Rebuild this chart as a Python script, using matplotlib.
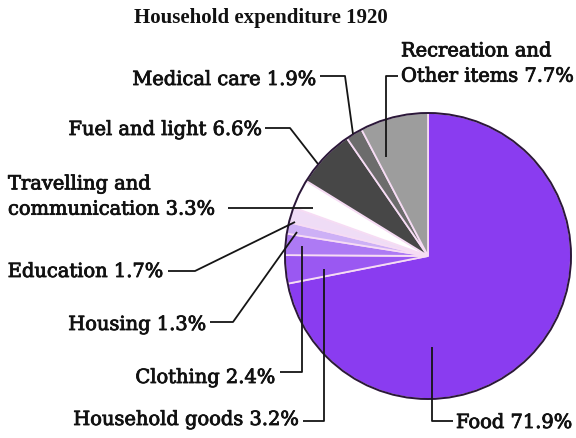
import matplotlib.pyplot as plt
import matplotlib.patheffects as pe
from matplotlib.patches import Circle

# Household expenditure shares, 1920 (percent), clockwise from 12 o'clock
categories = ["Food", "Household goods", "Clothing", "Housing", "Education",
              "Travelling and\ncommunication", "Fuel and light", "Medical care",
              "Recreation and\nOther items"]
shares = [71.9, 3.2, 2.4, 1.3, 1.7, 3.3, 6.6, 1.9, 7.7]
colors = ["#8a3cf0", "#9a58f2", "#ad7af4", "#cdb0f6", "#efdcf6",
          "#ffffff", "#474747", "#6c6c6c", "#9d9d9d"]

W, H = 576, 439
FONT = "DejaVu Serif"
heavy = [pe.withStroke(linewidth=0.6, foreground="#111111")]

fig = plt.figure(figsize=(W / 100, H / 100), dpi=100)
ax = fig.add_axes([0, 0, 1, 1])

cx, cy, r = 428, 257, 143
# y axis runs downward (pixel layout), so start at -90 and sweep "counterclock"
# in data space, which reads clockwise on screen
wedges, _ = ax.pie(shares, colors=colors, center=(cx, cy), radius=r,
                   startangle=-90, counterclock=True,
                   wedgeprops=dict(edgecolor="#f6dcf4", linewidth=1.3))
ax.add_patch(Circle((cx, cy), r, fill=False, edgecolor="#2a1838", linewidth=1.4, zorder=3))

ax.set_xlim(0, W)
ax.set_ylim(H, 0)
ax.set_aspect("equal")
ax.axis("off")

ax.text(261, 18, "Household expenditure 1920", ha="center", va="center",
        fontsize=15, fontweight="bold", family="Liberation Serif", color="#111111")

# label anchor, alignment, leader line vertices
layout = {
    "Food": ((456, 424), "left", [(453, 422), (432, 422), (432, 348)]),
    "Household goods": ((300, 421), "right", [(303, 422), (324, 422), (324, 270)]),
    "Clothing": ((276, 379), "right", [(280, 373), (302, 373), (302, 247)]),
    "Housing": ((207, 326), "right", [(210, 323), (233, 323), (297, 233)]),
    "Education": ((164, 273), "right", [(168, 272), (195, 272), (295, 223)]),
    "Travelling and\ncommunication": ((8, 198), "left", [(228, 209), (313, 209)]),
    "Fuel and light": ((263, 131), "right", [(265, 129), (290, 129), (318, 165)]),
    "Medical care": ((317, 81), "right", [(320, 77), (345, 77), (353, 135)]),
    "Recreation and\nOther items": ((401, 65), "left", [(398, 77), (386, 77), (386, 158)]),
}

for name, share in zip(categories, shares):
    (tx, ty), ha, pts = layout[name]
    ax.text(tx, ty, f"{name} {share}%", ha=ha, va="center", fontsize=14,
            family=FONT, linespacing=1.52, color="#111111",
            path_effects=heavy, zorder=5)
    xs, ys = zip(*pts)
    ax.plot(xs, ys, color="#151515", linewidth=1.3, solid_capstyle="butt", zorder=4)

fig.savefig("out.png", dpi=100)
